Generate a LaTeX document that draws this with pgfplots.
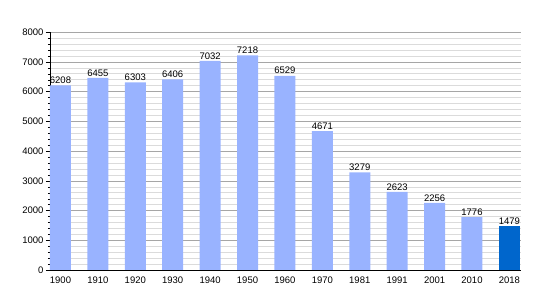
\documentclass[border=0pt]{standalone}
\usepackage{pgfplots}
\pgfplotsset{compat=1.18}
\usepackage{fontspec}
\setmainfont{Liberation Sans}
\definecolor{lightbar}{HTML}{99B3FF}
\definecolor{darkbar}{HTML}{0066CC}
\begin{document}
\begin{tikzpicture}
\useasboundingbox (-50pt,-30pt) rectangle (500pt,270pt);
\begin{axis}[
  at={(0,0)}, anchor=south west,
  scale only axis, width=471pt, height=238pt,
  ymin=0, ymax=8000, xmin=-0.28, xmax=12.31,
  ytick={0,1000,...,8000}, minor y tick num=4,
  ymajorgrids, yminorgrids,
  major grid style={draw=black!35},
  minor grid style={draw=black!14},
  axis x line*=bottom, axis y line*=left,
  axis line style={black},
  xtick={0,...,12},
  xticklabels={1900,1910,1920,1930,1940,1950,1960,1970,1981,1991,2001,2010,2018},
  x tick style={draw=none},
  y tick style={black},
  tick align=outside,
  major tick length=4pt, minor tick length=2pt,
  tick label style={font=\fontsize{9.5}{11}\selectfont},
  yticklabel style={xshift=1pt},
  xticklabel style={yshift=1pt},
  /pgf/number format/1000 sep={},
  /pgf/number format/assume math mode=true,
  nodes near coords,
  nodes near coords style={font=\fontsize{9.5}{11}\selectfont, black, /pgf/number format/1000 sep={}, inner sep=1.5pt},
]
\addplot[ybar, bar width=21pt, bar shift=0pt, fill=lightbar, draw=none]
 coordinates {(0,6208) (1,6455) (2,6303) (3,6406) (4,7032) (5,7218) (6,6529) (7,4671) (8,3279) (9,2623) (10,2256) (11,1776)};
\addplot[ybar, bar width=21pt, bar shift=0pt, fill=darkbar, draw=none]
 coordinates {(12,1479)};
\end{axis}
\end{tikzpicture}
\end{document}
